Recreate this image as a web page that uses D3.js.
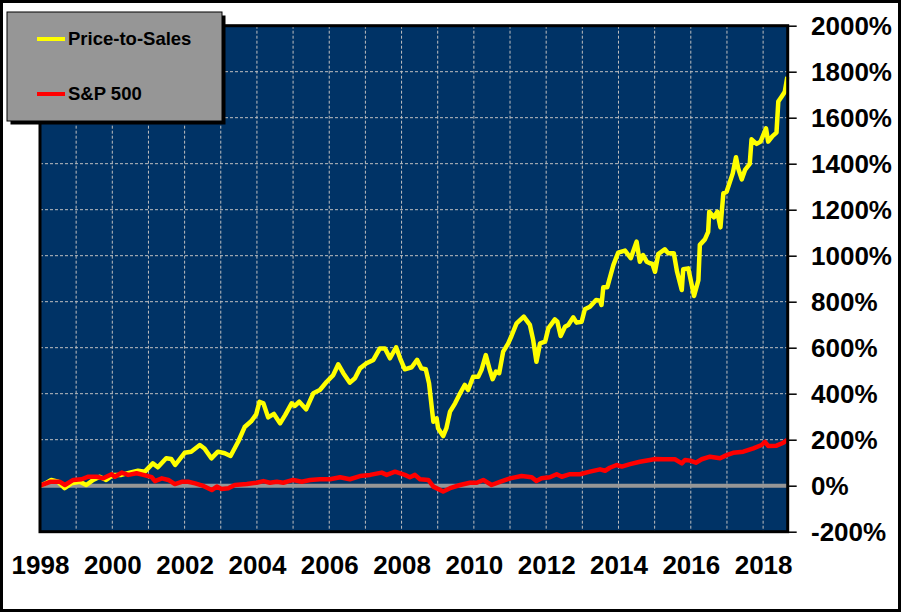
<!DOCTYPE html>
<html>
<head>
<meta charset="utf-8">
<script src="https://cdn.jsdelivr.net/npm/d3@7"></script>
<style>
  body { margin: 0; background: #fff; }
  svg { display: block; font-family: "Liberation Sans", Arial, sans-serif; }
</style>
</head>
<body>
<div id="chart-container"></div>
<script>
// Price-to-Sales strategy vs S&P 500, cumulative return (%)
const ptsDates = [1998.00,1998.15,1998.31,1998.50,1998.68,1998.87,1999.10,1999.28,1999.47,1999.65,1999.83,
  2000.02,2000.25,2000.48,2000.71,2000.90,2001.12,2001.26,2001.49,2001.63,2001.74,2002.00,2002.18,2002.42,
  2002.55,2002.74,2002.92,2003.11,2003.27,2003.48,2003.66,2003.84,2003.98,2004.07,2004.18,2004.31,2004.47,
  2004.64,2004.78,2004.96,2005.05,2005.17,2005.36,2005.56,2005.74,2005.93,2006.11,2006.25,2006.39,2006.57,
  2006.71,2006.85,2007.03,2007.22,2007.40,2007.54,2007.68,2007.85,2007.96,2008.09,2008.28,2008.43,2008.55,
  2008.67,2008.76,2008.88,2008.97,2009.01,2009.15,2009.24,2009.34,2009.48,2009.62,2009.75,2009.84,2009.98,
  2010.12,2010.21,2010.33,2010.44,2010.52,2010.61,2010.70,2010.81,2010.95,2011.04,2011.18,2011.38,2011.55,
  2011.64,2011.73,2011.83,2011.97,2012.06,2012.24,2012.31,2012.40,2012.52,2012.61,2012.75,2012.84,2012.98,
  2013.07,2013.21,2013.38,2013.49,2013.53,2013.58,2013.69,2013.86,2013.99,2014.18,2014.34,2014.50,2014.59,
  2014.68,2014.78,2014.87,2014.94,2015.01,2015.10,2015.28,2015.37,2015.53,2015.62,2015.75,2015.79,2015.93,
  2016.09,2016.21,2016.25,2016.39,2016.48,2016.51,2016.64,2016.73,2016.82,2016.90,2016.99,2017.16,2017.25,
  2017.31,2017.41,2017.50,2017.63,2017.68,2017.82,2017.93,2018.08,2018.14,2018.26,2018.37,2018.42,2018.51,
  2018.60,2018.67];
const ptsValues = [0,10,25,17,-11,10,17,3,25,39,25,
  47,47,57,65,61,97,80,119,116,90,143,148,177,
  162,119,148,141,129,191,255,280,310,365,358,297,312,
  271,307,358,347,365,332,402,416,452,481,528,489,448,
  467,510,532,547,597,597,554,602,554,506,515,547,510,
  506,445,278,293,250,216,250,322,358,402,438,416,474,
  474,503,568,503,463,496,489,583,619,651,706,735,699,
  634,539,619,626,684,723,713,651,691,699,732,709,713,
  767,778,807,804,786,863,863,960,1013,1022,989,1061,974,
  1003,974,967,964,930,1007,1028,1011,1011,930,851,941,945,
  825,894,1047,1071,1104,1191,1167,1191,1123,1271,1278,1358,1428,
  1380,1332,1373,1399,1506,1486,1496,1554,1496,1520,1535,1670,1691,
  1713,1778];

const spxDates = [1998.00,1998.28,1998.55,1998.69,1998.92,1999.15,1999.34,1999.57,1999.75,1999.98,
  2000.07,2000.26,2000.44,2000.67,2000.86,2001.09,2001.18,2001.37,2001.55,2001.73,2001.92,2002.10,
  2002.29,2002.52,2002.75,2002.89,2003.02,2003.21,2003.39,2003.72,2003.99,2004.18,2004.36,2004.55,
  2004.73,2005.00,2005.24,2005.47,2005.74,2006.02,2006.30,2006.57,2006.85,2007.13,2007.45,2007.59,
  2007.82,2008.09,2008.23,2008.37,2008.51,2008.74,2008.88,2009.15,2009.34,2009.62,2009.89,2010.08,
  2010.26,2010.49,2010.72,2011.00,2011.32,2011.60,2011.73,2011.87,2012.10,2012.29,2012.43,2012.66,
  2012.93,2013.21,2013.49,2013.63,2013.76,2013.95,2014.09,2014.32,2014.59,2014.87,2015.01,2015.24,
  2015.56,2015.75,2015.84,2015.98,2016.14,2016.30,2016.53,2016.81,2016.99,2017.17,2017.45,2017.73,
  2017.96,2018.05,2018.14,2018.37,2018.56,2018.67];
const spxValues = [0,17,17,3,25,28,39,39,32,50,
  39,57,47,54,47,37,20,32,25,7,17,17,
  10,-1,-19,-4,-14,-11,3,7,13,20,13,17,
  13,25,17,25,28,28,37,28,42,47,57,47,
  61,47,37,47,28,25,-4,-25,-11,3,13,13,
  25,3,17,32,42,37,20,32,37,50,39,50,
  50,61,71,65,78,90,83,94,104,112,116,115,
  115,97,112,109,100,115,126,119,133,143,148,162,
  177,191,173,174,187,199];

const seriesNames = ["Price-to-Sales", "S&P 500"];
const seriesColors = ["#ffff00", "#ff0000"];
const yTickValues = [-200, 0, 200, 400, 600, 800, 1000, 1200, 1400, 1600, 1800, 2000];
const xLabelYears = [1998, 2000, 2002, 2004, 2006, 2008, 2010, 2012, 2014, 2016, 2018];
const xGridYears = d3.range(1999, 2019);

const size = { width: 901, height: 612 };
const plot = { left: 40, right: 787.7, top: 25.7, bottom: 531.7 };

function drawChart() {
    const svg = d3.select("#chart-container")
        .append("svg")
        .attr("width", size.width)
        .attr("height", size.height);

    // outer frame
    svg.append("rect")
        .attr("x", 1.5).attr("y", 1.5)
        .attr("width", size.width - 3).attr("height", size.height - 3)
        .attr("fill", "#fff").attr("stroke", "#000").attr("stroke-width", 3);

    const x = d3.scaleLinear().domain([1998, 2018.68]).range([plot.left, plot.right]);
    const y = d3.scaleLinear().domain([-200, 2000]).range([plot.bottom, plot.top]);

    svg.append("rect")
        .attr("x", plot.left).attr("y", plot.top)
        .attr("width", plot.right - plot.left).attr("height", plot.bottom - plot.top)
        .attr("fill", "#003366");

    // grid
    svg.append("g").selectAll("line")
        .data(yTickValues.filter(v => v !== 0 && v !== -200 && v !== 2000))
        .join("line")
        .attr("x1", plot.left).attr("x2", plot.right)
        .attr("y1", d => y(d)).attr("y2", d => y(d))
        .attr("stroke", "#c0c0c0").attr("stroke-width", 1).attr("stroke-dasharray", "3,2");

    svg.append("g").selectAll("line")
        .data(xGridYears)
        .join("line")
        .attr("x1", d => x(d)).attr("x2", d => x(d))
        .attr("y1", plot.top).attr("y2", plot.bottom)
        .attr("stroke", "#c0c0c0").attr("stroke-width", 1).attr("stroke-dasharray", "3,2");

    // zero line
    svg.append("line")
        .attr("x1", plot.left).attr("x2", plot.right)
        .attr("y1", y(0)).attr("y2", y(0))
        .attr("stroke", "#969696").attr("stroke-width", 4);

    const line = d3.line().x(d => x(d[0])).y(d => y(d[1]));
    const ptsData = d3.zip(ptsDates, ptsValues);
    const spxData = d3.zip(spxDates, spxValues);

    [ptsData, spxData].forEach((data, i) => {
        svg.append("path")
            .datum(data)
            .attr("d", line)
            .attr("fill", "none")
            .attr("stroke", seriesColors[i])
            .attr("stroke-width", 4.5)
            .attr("stroke-linejoin", "round");
    });

    // plot border
    svg.append("rect")
        .attr("x", plot.left).attr("y", plot.top)
        .attr("width", plot.right - plot.left).attr("height", plot.bottom - plot.top)
        .attr("fill", "none").attr("stroke", "#000").attr("stroke-width", 3);

    // right axis
    const yAxis = d3.axisRight(y).tickValues(yTickValues).tickSize(9).tickPadding(14)
        .tickFormat(d => d + "%");
    const yAxisG = svg.append("g")
        .attr("transform", `translate(${plot.right},0)`)
        .call(yAxis);
    yAxisG.select(".domain").remove();
    yAxisG.selectAll(".tick line").attr("stroke", "#000").attr("stroke-width", 1.5);
    yAxisG.selectAll(".tick text")
        .attr("x", 811 - plot.right)
        .attr("fill", "#000")
        .style("font-family", '"Liberation Sans", Arial, sans-serif')
        .style("font-size", "26px")
        .style("font-weight", "bold");

    // bottom year labels
    const xAxis = d3.axisBottom(x).tickValues(xLabelYears).tickSize(0).tickPadding(0)
        .tickFormat(d3.format("d"));
    const xAxisG = svg.append("g")
        .attr("transform", `translate(0,${plot.bottom})`)
        .call(xAxis);
    xAxisG.select(".domain").remove();
    xAxisG.selectAll(".tick text")
        .attr("y", 42)
        .attr("dy", 0)
        .attr("fill", "#000")
        .style("font-family", '"Liberation Sans", Arial, sans-serif')
        .style("font-size", "26px")
        .style("font-weight", "bold");

    drawLegend(svg);
}

function drawLegend(svg) {
    const box = { x: 7, y: 12, width: 215, height: 109, shadow: 3.5 };
    svg.append("rect")
        .attr("x", box.x + box.shadow).attr("y", box.y + box.shadow)
        .attr("width", box.width).attr("height", box.height)
        .attr("fill", "#000");
    svg.append("rect")
        .attr("x", box.x).attr("y", box.y)
        .attr("width", box.width).attr("height", box.height)
        .attr("fill", "#969696").attr("stroke", "#000").attr("stroke-width", 1);

    const rowsY = [39, 94];
    seriesNames.forEach((name, i) => {
        svg.append("line")
            .attr("x1", 37).attr("x2", 65)
            .attr("y1", rowsY[i]).attr("y2", rowsY[i])
            .attr("stroke", seriesColors[i]).attr("stroke-width", 4);
        svg.append("text")
            .attr("x", 68)
            .attr("y", rowsY[i] + 6)
            .attr("fill", "#000")
            .style("font-size", "18.5px")
            .style("font-weight", "bold")
            .text(name);
    });
}

drawChart();
</script>
</body>
</html>
